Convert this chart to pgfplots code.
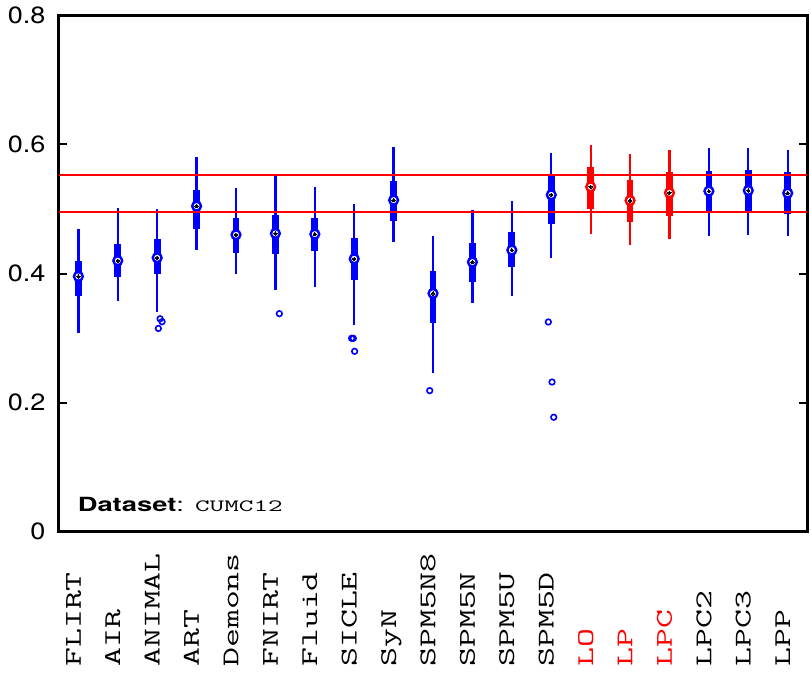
\documentclass[border=0pt]{standalone}
\usepackage{pgfplots}
\pgfplotsset{compat=1.18}
\usepackage{pgfplotstable}
\usepackage{fontspec}
\setmainfont{TeX Gyre Heros}
\usepackage{graphicx}

\pgfplotstableread{
x lw q1 med q3 uw
1 0.3074 0.3650 0.3956 0.4193 0.4690
2 0.3570 0.3946 0.4199 0.4451 0.5014
3 0.3409 0.3992 0.4245 0.4534 0.5003
4 0.4359 0.4694 0.5045 0.5297 0.5808
5 0.3998 0.4322 0.4601 0.4854 0.5333
6 0.3745 0.4307 0.4622 0.4900 0.5535
7 0.3791 0.4348 0.4611 0.4859 0.5344
8 0.3208 0.3894 0.4229 0.4554 0.5070
9 0.4492 0.4818 0.5137 0.5426 0.5963
10 0.2465 0.3239 0.3693 0.4039 0.4575
11 0.3539 0.3873 0.4178 0.4472 0.4977
12 0.3657 0.4101 0.4364 0.4642 0.5117
13 0.4245 0.4771 0.5220 0.5509 0.5875
17 0.4585 0.4952 0.5277 0.5586 0.5952
18 0.4596 0.4952 0.5287 0.5602 0.5952
19 0.4575 0.4916 0.5246 0.5566 0.5921
}\bluedata

\pgfplotstableread{
x lw q1 med q3 uw
14 0.4606 0.4993 0.5344 0.5653 0.5999
15 0.4446 0.4792 0.5132 0.5452 0.5849
16 0.4539 0.4895 0.5251 0.5566 0.5921
}\reddata

\newcommand\lbl[1]{\scalebox{1.53}[1]{#1}}

\begin{document}
\begin{tikzpicture}
\begin{axis}[
  name=ax,
  scale only axis, width=748pt, height=516pt,
  xmin=0.5, xmax=19.5, ymin=0, ymax=0.8,
  axis line style={line width=3pt},
  tick style={line width=2pt, black},
  major tick length=8pt,
  xtick={1,...,19},
  xtick style={draw=none},
  xticklabels={\lbl{FLIRT},\lbl{AIR},\lbl{ANIMAL},\lbl{ART},\lbl{Demons},\lbl{FNIRT},\lbl{Fluid},\lbl{SICLE},\lbl{SyN},\lbl{SPM5N8},\lbl{SPM5N},\lbl{SPM5U},\lbl{SPM5D},{\textcolor{red}{\lbl{LO}}},{\textcolor{red}{\lbl{LP}}},{\textcolor{red}{\lbl{LPC}}},\lbl{LPC2},\lbl{LPC3},\lbl{LPP}},
  xticklabel style={font=\fontsize{24}{25}\selectfont\ttfamily, inner sep=0pt, xshift=2.4pt, yshift=-135pt, rotate=90, anchor=base west},
  ytick={0,0.2,0.4,0.6,0.8},
  /pgf/number format/assume math mode=true,
  yticklabel={\scalebox{1.15}[1]{\pgfmathprintnumber{\tick}}},
  yticklabel style={font=\fontsize{23.5}{24}\selectfont, inner sep=0pt, xshift=-13pt},
  clip=false,
]
% whiskers
\addplot[only marks, mark=none, forget plot,
  error bars/.cd, y dir=both, y explicit, error mark=none,
  error bar style={line width=2.3pt, blue}]
  table[x=x, y=med, y error plus expr=\thisrow{uw}-\thisrow{med}, y error minus expr=\thisrow{med}-\thisrow{lw}] {\bluedata};
\addplot[only marks, mark=none, forget plot,
  error bars/.cd, y dir=both, y explicit, error mark=none,
  error bar style={line width=2.3pt, red}]
  table[x=x, y=med, y error plus expr=\thisrow{uw}-\thisrow{med}, y error minus expr=\thisrow{med}-\thisrow{lw}] {\reddata};
% boxes
\addplot[only marks, mark=none, forget plot,
  error bars/.cd, y dir=both, y explicit, error mark=none,
  error bar style={line width=6.7pt, blue}]
  table[x=x, y=med, y error plus expr=\thisrow{q3}-\thisrow{med}, y error minus expr=\thisrow{med}-\thisrow{q1}] {\bluedata};
\addplot[only marks, mark=none, forget plot,
  error bars/.cd, y dir=both, y explicit, error mark=none,
  error bar style={line width=6.7pt, red}]
  table[x=x, y=med, y error plus expr=\thisrow{q3}-\thisrow{med}, y error minus expr=\thisrow{med}-\thisrow{q1}] {\reddata};
% medians
\addplot[only marks, mark=*, mark size=4.4pt, draw=blue, fill=white, line width=2.4pt] table[x=x, y=med] {\bluedata};
\addplot[only marks, mark=*, mark size=4.4pt, draw=red, fill=white, line width=2.4pt] table[x=x, y=med] {\reddata};
\addplot[only marks, mark=*, mark size=1.7pt, draw=black, fill=black, line width=0pt] table[x=x, y=med] {\bluedata};
\addplot[only marks, mark=*, mark size=1.7pt, draw=black, fill=black, line width=0pt] table[x=x, y=med] {\reddata};
% outliers
\addplot[only marks, mark=o, mark size=2.8pt, draw=blue, line width=1.6pt] coordinates {
  (3.074,0.330) (3.124,0.3254) (3.03,0.3150)
  (6.10,0.3379)
  (7.935,0.2997) (7.977,0.2997) (8.01,0.2796)
  (9.916,0.2187)
  (12.926,0.325) (13.02,0.232) (13.063,0.1775)
};
% reference lines
\addplot[red, line width=1.6pt] coordinates {(0.5,0.5530) (19.5,0.5530)};
\addplot[red, line width=1.6pt] coordinates {(0.5,0.4955) (19.5,0.4955)};
% dataset label
\node[anchor=base west, inner sep=0pt] at (axis cs:0.98,0.0315)
  {\scalebox{1.4}[1]{\fontsize{19.5}{21}\selectfont\textbf{Dataset}:}\hspace{11pt}\scalebox{1.65}[1]{\fontsize{17.2}{18}\selectfont\ttfamily CUMC12}};
\end{axis}
\path ([shift={(-58.6pt,-146.7pt)}]ax.south west) rectangle ([shift={(3.6pt,15.3pt)}]ax.north east);
\end{tikzpicture}
\end{document}
